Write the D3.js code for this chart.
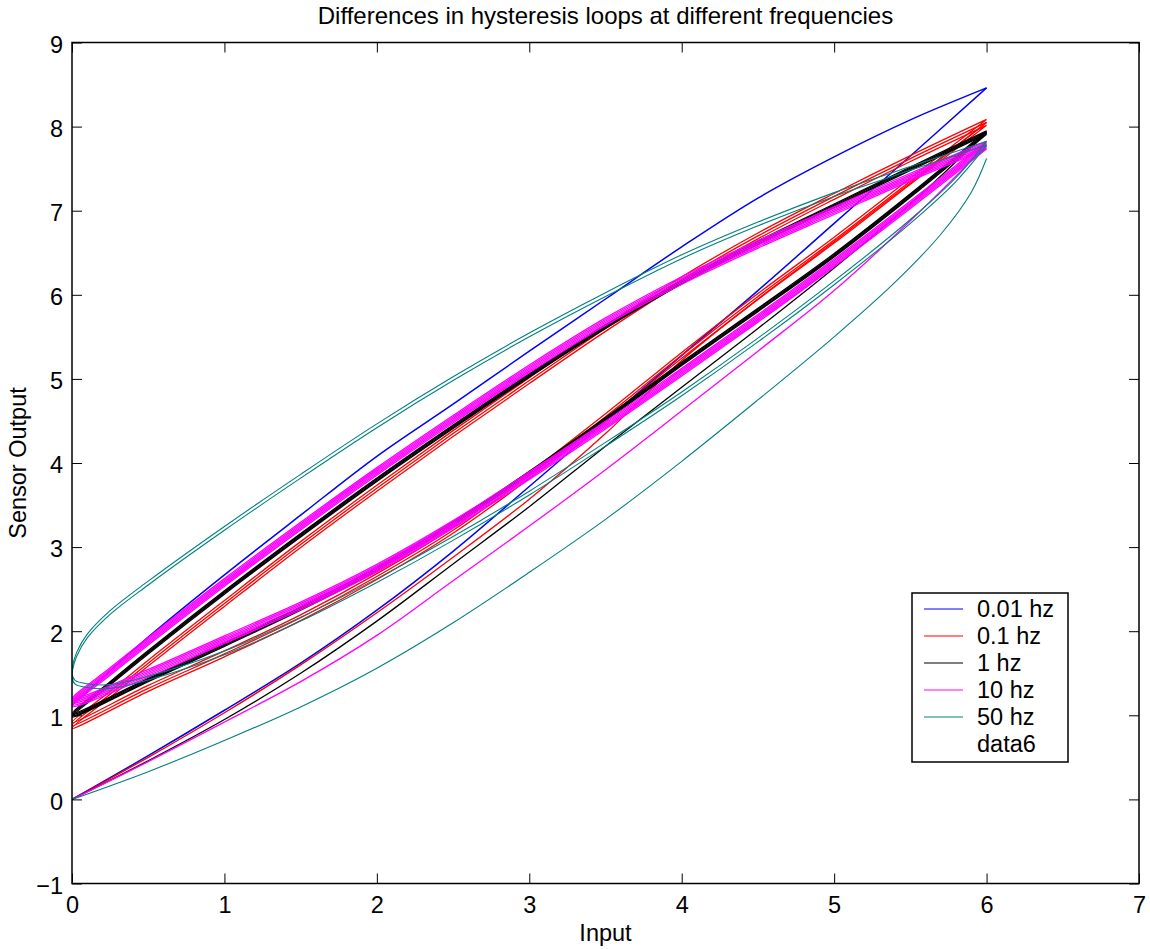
<!DOCTYPE html>
<html>
<head>
<meta charset="utf-8">
<script src="https://cdn.jsdelivr.net/npm/d3@7"></script>
<style>
  body { margin: 0; background: #fff; }
  svg { display: block; font-family: "Liberation Sans", Arial, sans-serif; }
</style>
</head>
<body>
<svg id="chart" width="1150" height="949"></svg>
<script>
// tick labels
const xTicks = [0, 1, 2, 3, 4, 5, 6, 7]
const yTicks = [-1, 0, 1, 2, 3, 4, 5, 6, 7, 8, 9]

const names = ['0.01 hz', '0.1 hz', '1 hz', '10 hz', '50 hz', 'data6']
const colors = ['#0000ff', '#ff0000', '#000000', '#ff00ff', '#008080', null]
const widths = [1.5, 1.3, 1.3, 1.3, 1.1]

// 0.01 hz : first rise from zero, then one descending branch
const blueRise = [[0,0],[0.5,0.52],[1,1.06],[1.5,1.62],[2,2.25],[2.5,2.95],[3,3.72],[3.5,4.5],[4,5.28],[4.5,6.05],[5,6.85],[5.5,7.65],[6,8.46]]
const blueDown = [[6,8.46],[5.5,8.08],[5,7.64],[4.5,7.15],[4,6.57],[3.5,5.95],[3,5.33],[2.5,4.7],[2,4.08],[1.5,3.38],[1,2.67],[0.5,1.93],[0.25,1.53],[0,1.12]]

// 0.1 hz
const redRise = [[0,0],[0.5,0.5],[1,1.03],[1.5,1.6],[2,2.22],[2.5,2.88],[3,3.57],[3.5,4.35],[4,5.22],[4.5,5.95],[5,6.63],[5.5,7.33],[6,8.05]]
const redDown = [[6,8.05],[5.5,7.62],[5,7.17],[4.5,6.7],[4,6.18],[3.5,5.6],[3,4.98],[2.5,4.35],[2,3.7],[1.5,3.03],[1,2.33],[0.5,1.62],[0.25,1.25],[0,0.88]]
const redUp = [[0,0.86],[0.5,1.32],[1,1.73],[1.5,2.16],[2,2.65],[2.5,3.2],[3,3.85],[3.5,4.55],[4,5.28],[4.5,5.98],[5,6.65],[5.5,7.35],[6,8.05]]
const redCycles = [0.035, 0, -0.035]

// 1 hz
const blackRise = [[0,0],[0.5,0.46],[1,0.95],[1.5,1.5],[2,2.12],[2.5,2.8],[3,3.48],[3.5,4.2],[4,4.9],[4.5,5.6],[5,6.32],[5.5,7.08],[6,7.93]]
const blackDown = [[6,7.93],[5.5,7.5],[5,7.06],[4.5,6.62],[4,6.15],[3.5,5.62],[3,5.04],[2.5,4.43],[2,3.8],[1.5,3.14],[1,2.46],[0.5,1.75],[0.25,1.38],[0,1.0]]
const blackUp = [[0,0.98],[0.5,1.42],[1,1.84],[1.5,2.27],[2,2.74],[2.5,3.28],[3,3.88],[3.5,4.52],[4,5.18],[4.5,5.82],[5,6.47],[5.5,7.18],[6,7.93]]
const blackCycles = [0.02, 0.007, -0.007, -0.02]

// 10 hz
const magentaRise = [[0,0],[0.5,0.45],[1,0.92],[1.5,1.4],[2,1.95],[2.5,2.6],[3,3.25],[3.5,3.92],[4,4.62],[4.5,5.33],[5,6.05],[5.5,6.88],[6,7.78]]
const magentaDown = [[6,7.78],[5.5,7.4],[5,7.0],[4.5,6.6],[4,6.17],[3.5,5.68],[3,5.12],[2.5,4.52],[2,3.9],[1.5,3.25],[1,2.58],[0.5,1.88],[0.25,1.52],[0,1.15]]
const magentaUp = [[0,1.08],[0.5,1.5],[1,1.9],[1.5,2.3],[2,2.75],[2.5,3.27],[3,3.85],[3.5,4.45],[4,5.08],[4.5,5.72],[5,6.38],[5.5,7.07],[6,7.78]]
const magentaCycles = [-0.045, -0.027, -0.009, 0.009, 0.027, 0.045]

// 50 hz
const tealRise = [[0,0],[0.5,0.33],[1,0.7],[1.5,1.1],[2,1.56],[2.5,2.1],[3,2.7],[3.5,3.33],[4,4.02],[4.5,4.75],[5,5.5],[5.4,6.15],[5.7,6.72],[5.9,7.22],[6,7.62]]
const tealDown = [[6,7.78],[5.5,7.48],[5,7.17],[4.5,6.82],[4,6.43],[3.5,5.98],[3,5.5],[2.5,4.98],[2,4.42],[1.5,3.82],[1,3.2],[0.5,2.55],[0.25,2.2],[0.1,1.92],[0.03,1.7],[0.005,1.55],[0,1.45]]
const tealUp = [[0.02,1.37],[0.1,1.33],[0.25,1.32],[0.5,1.42],[1,1.72],[1.5,2.12],[2,2.58],[2.5,3.08],[3,3.62],[3.5,4.2],[4,4.8],[4.5,5.44],[5,6.12],[5.5,6.85],[5.8,7.35],[6,7.78]]
const tealCycles = [0, 0.045]

const series = [
	{rise: blueRise, down: blueDown, up: [], cycles: [0]},
	{rise: redRise, down: redDown, up: redUp, cycles: redCycles},
	{rise: blackRise, down: blackDown, up: blackUp, cycles: blackCycles},
	{rise: magentaRise, down: magentaDown, up: magentaUp, cycles: magentaCycles},
	{rise: tealRise, down: tealDown, up: tealUp, cycles: tealCycles}
]

const width = 1150, height = 949
const margin = {top: 42.5, right: 11, bottom: 65.5, left: 72}
const font = 23.5

const svg = d3.select('#chart')

const x = d3.scaleLinear().domain([0, 7]).range([margin.left, width - margin.right])
const y = d3.scaleLinear().domain([-1, 9]).range([height - margin.bottom, margin.top])

svg.append('defs').append('clipPath').attr('id', 'plot')
	.append('rect')
	.attr('x', x(0)).attr('y', y(9))
	.attr('width', x(7) - x(0)).attr('height', y(-1) - y(9))

const line = d3.line()
	.x(d => x(d[0]))
	.y(d => y(d[1]))
	.curve(d3.curveCatmullRom.alpha(0.5))

// loops, in series order so that later series sit on top
const plot = svg.append('g').attr('clip-path', 'url(#plot)').attr('fill', 'none')
series.forEach((s, i) => {
	const g = plot.append('g').attr('stroke', colors[i]).attr('stroke-width', widths[i])
	g.append('path').attr('d', line(s.rise))
	// each cycle: down to the left end, then back up to the right end
	s.cycles.forEach(c => {
		const loop = s.down.concat(s.up.slice(s.up.length && s.up[0][0] === 0 ? 1 : 0))
		g.append('path').attr('d', line(loop.map(p => [p[0], p[1] + c])))
	})
})

// axes, ticks pointing inwards on all four sides
function styleAxis(g) {
	g.select('.domain').remove()
	g.selectAll('.tick line').attr('stroke', '#000').attr('stroke-width', 1)
	g.selectAll('text').attr('font-size', font).attr('fill', '#000')
		.attr('font-family', '"Liberation Sans", Arial, sans-serif')
}

svg.append('g')
	.attr('transform', 'translate(0,' + y(-1) + ')')
	.call(d3.axisBottom(x).tickValues(xTicks).tickSizeInner(-10).tickSizeOuter(0).tickPadding(13)
		.tickFormat(d => d))
	.call(styleAxis)

svg.append('g')
	.attr('transform', 'translate(0,' + y(9) + ')')
	.call(d3.axisTop(x).tickValues(xTicks).tickSizeInner(-10).tickSizeOuter(0).tickFormat(''))
	.call(styleAxis)

svg.append('g')
	.attr('transform', 'translate(' + x(0) + ',0)')
	.call(d3.axisLeft(y).tickValues(yTicks).tickSizeInner(-10).tickSizeOuter(0).tickPadding(9)
		.tickFormat(d => d < 0 ? '\u2212' + Math.abs(d) : d))
	.call(styleAxis)
	.selectAll('text').attr('dy', '0.42em')

svg.append('g')
	.attr('transform', 'translate(' + x(7) + ',0)')
	.call(d3.axisRight(y).tickValues(yTicks).tickSizeInner(-10).tickSizeOuter(0).tickFormat(''))
	.call(styleAxis)

// frame
svg.append('rect')
	.attr('x', x(0)).attr('y', y(9))
	.attr('width', x(7) - x(0)).attr('height', y(-1) - y(9))
	.attr('fill', 'none').attr('stroke', '#000').attr('stroke-width', 1.5)

// titles
svg.append('text')
	.attr('x', (x(0) + x(7)) / 2).attr('y', 24)
	.attr('text-anchor', 'middle').attr('font-size', 24)
	.text('Differences in hysteresis loops at different frequencies')

svg.append('text')
	.attr('x', (x(0) + x(7)) / 2).attr('y', 941)
	.attr('text-anchor', 'middle').attr('font-size', font)
	.text('Input')

svg.append('text')
	.attr('transform', 'translate(26,' + (y(-1) + y(9)) / 2 + ') rotate(-90)')
	.attr('text-anchor', 'middle').attr('font-size', font)
	.text('Sensor Output')

// legend
const legend = svg.append('g').attr('transform', 'translate(912,593)')
legend.append('rect')
	.attr('width', 156).attr('height', 169)
	.attr('fill', '#fff').attr('stroke', '#000').attr('stroke-width', 1.5)

const rows = legend.selectAll('g.row')
	.data(names)
	.join('g')
	.attr('class', 'row')
	.attr('transform', (d, i) => 'translate(0,' + (16 + i * 27) + ')')

rows.filter((d, i) => colors[i])
	.append('line')
	.attr('x1', 12).attr('x2', 51)
	.attr('stroke', d => colors[names.indexOf(d)]).attr('stroke-width', 1.2)

rows.append('text')
	.attr('x', 65).attr('dy', '0.36em')
	.attr('font-size', font)
	.text(d => d)
</script>
</body>
</html>
